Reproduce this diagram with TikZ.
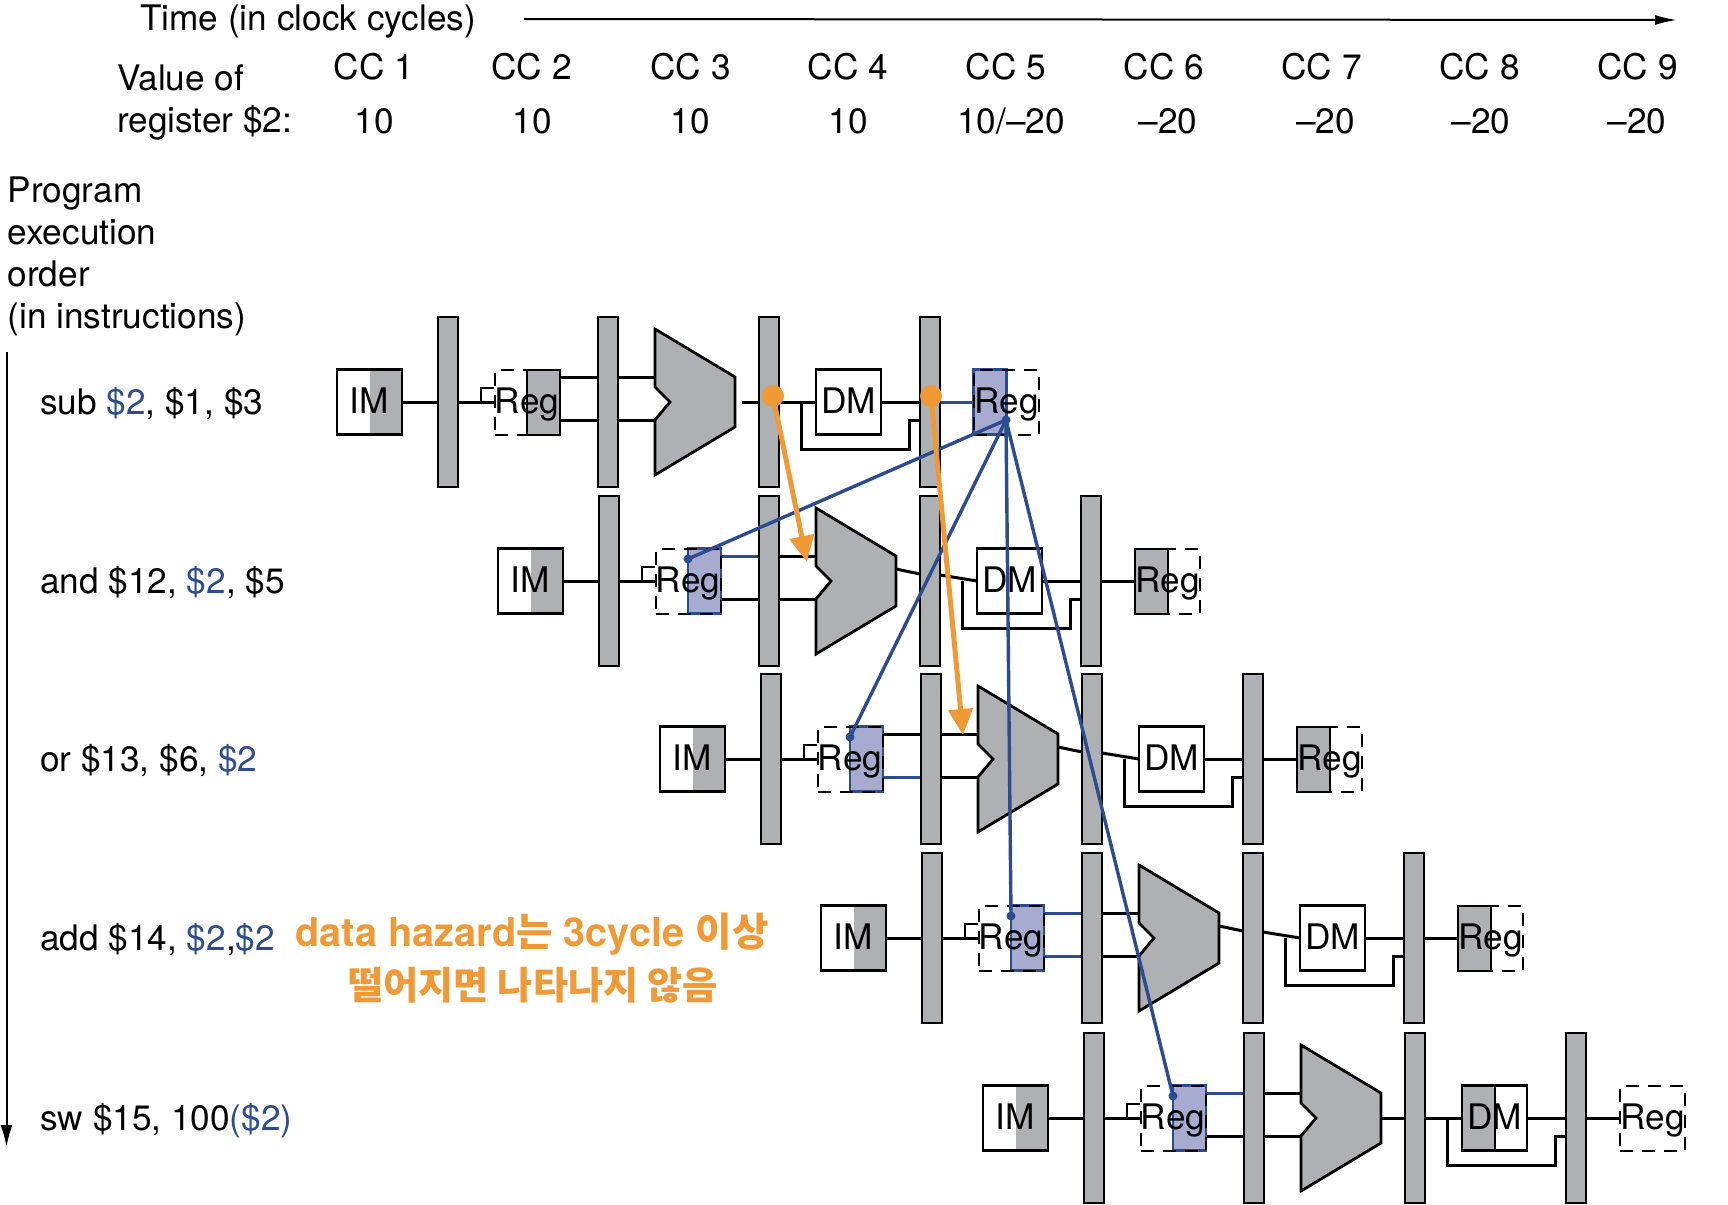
\documentclass[tikz,border=0pt]{standalone}
\usepackage{fontspec}
\setmainfont{TeX Gyre Heros}
\newfontfamily\krfont{Noto Sans CJK KR}
\usetikzlibrary{arrows.meta}
\definecolor{hzgray}{HTML}{AFB0B3}
\definecolor{hzblue}{HTML}{2B4D8F}
\definecolor{hzfill}{HTML}{A6ABCF}
\definecolor{hzorange}{HTML}{F09A37}
\tikzset{
  x=1pt,y=-1pt,
  txt/.style={inner sep=0pt,font=\fontsize{35.2}{42}\selectfont},
  wire/.style={line width=3pt,black},
  bluewire/.style={line width=3pt,hzblue},
  thinwire/.style={line width=2pt,black},
  latch/.style={draw=black,line width=2.4pt,fill=hzgray,minimum width=20pt,minimum height=170pt,inner sep=0pt},
  unitbox/.style={txt,minimum width=65pt,minimum height=65pt,text height=25pt,text depth=3pt},
  solidbox/.style={unitbox,draw=black,line width=2.4pt},
  dashbox/.style={unitbox,draw=black,line width=2pt,dash pattern=on 13pt off 9pt},
  halfgray/.style={fill=hzgray,draw=black,line width=2pt,minimum width=33pt,minimum height=65pt,inner sep=0pt},
  halfblue/.style={fill=hzfill,draw=hzblue,line width=2.4pt,minimum width=33pt,minimum height=65pt,inner sep=0pt},
  halfplain/.style={minimum width=33pt,minimum height=65pt,inner sep=0pt},
  alu/.style={draw=black,line width=2.8pt,fill=hzgray,line join=miter},
  hazard/.style={line width=3.4pt,hzblue},
  hazdot/.style={circle,fill=hzblue,inner sep=0pt,minimum size=9pt},
  fwd/.style={line width=5pt,hzorange,-{Triangle[width=24pt,length=26pt]}},
  fwddot/.style={circle,fill=hzorange,inner sep=0pt,minimum size=22pt},
  idhalf/.style={halfblue},
  dmhalf/.style={halfplain},
  wbhalf/.style={halfgray},
  topa/.style={wire},
  bota/.style={wire},
  wbwire/.style={wire},
  tapdot/.style={hazdot},
}
% #1 scope options, #2 wires from the ALU to the data memory
\newcommand{\piperow}[2]{%
\begin{scope}[#1]
  \node[latch] (l1) at (448,402) {};
  \node[latch] (l2) at (608,402) {};
  \node[latch] (l3) at (769,402) {};
  \node[latch] (l4) at (930,402) {};
  \node[fill=hzgray,minimum width=32pt,minimum height=65pt,inner sep=0pt] (imh) at (386,402) {};
  \node[solidbox] (im) at (369.5,402) {IM};
  \node[idhalf] (idh) at (543.5,402) {};
  \node[dashbox] (id) at (527,402) {Reg};
  \node[dmhalf] (dmh) at (832,402) {};
  \node[solidbox] (dm) at (848.5,402) {DM};
  \node[wbhalf] (wbh) at (990,402) {};
  \node[dashbox] (wb) at (1006.5,402) {Reg};
  \draw[alu] (655,329) -- (735,377) -- (735,427) -- (655,475) -- (655,420) -- (670,402) -- (655,387) -- cycle;
  \coordinate (alut) at (655,377);
  \coordinate (alub) at (655,420);
  \coordinate (aluo) at (735,402);
  \coordinate (tap) at (801.5,402);
  \coordinate (lb) at (801.5,449);
  \coordinate (rb) at (909,449);
  \coordinate (rt) at (909,420);
  \coordinate (clka) at (480.5,402);
  \coordinate (clkb) at (480.5,388);
  \coordinate (clkc) at (494,388);
  \draw[wire] (im.east) -- (l1.west);
  \draw[wire] (l1.east) -- (id.west);
  \draw[thinwire] (clka) -- (clkb) -- (clkc);
  \draw[topa] (id.east |- alut) -- (l2.west |- alut);
  \draw[bota] (id.east |- alub) -- (l2.west |- alub);
  \draw[wire] (l2.east |- alut) -- (alut);
  \draw[wire] (l2.east |- alub) -- (alub);
  #2
  \draw[wire] (tap) -- (lb) -- (rb) -- (rt) -- (l4.west |- rt);
  \draw[wire] (dm.east) -- (l4.west);
  \draw[wbwire] (l4.east) -- (wb.west);
  \node[tapdot] (dot) at (527,380) {};
\end{scope}}
\newcommand{\straightwires}{\draw[wire] (aluo) -- (l3.west); \draw[wire] (l3.east) -- (dm.west);}
\newcommand{\gapwires}{\draw[wire] (742,402) -- (l3.west); \draw[wire] (l3.east) -- (dm.west);}
\newcommand{\slopewires}{\coordinate (aa) at (735,390); \coordinate (ab) at (759,395); \coordinate (ac) at (779,396); \coordinate (ad) at (816,402); \draw[wire] (aa) -- (ab); \draw[wire] (ac) -- (ad);}
\begin{document}
\begin{tikzpicture}
\useasboundingbox[fill=white] (0,0) rectangle (1728,1204);
% header
\node[txt,anchor=base west] (time) at (140,31) {Time (in clock cycles)};
\coordinate (timeA) at (524,19);
\coordinate (timeB) at (1677,20);
\draw[line width=2pt,-{Latex[length=22pt,width=10pt]}] (timeA) -- (timeB);
\node[txt,anchor=base west] (val1) at (117,91) {Value of};
\node[txt,anchor=base west] (val2) at (117,132) {register \$2:};
\foreach \n/\x in {1/374,2/531.5,3/690.5,4/848,5/1006,6/1164,7/1321.5,8/1479.5,9/1637.5}
  \node[txt,anchor=base] (cc\n) at (\x,80) {CC \n};
\foreach \n/\x/\v in {1/374/10,2/532/10,3/690/10,4/848/10,5/1011/{10/–20},6/1168/–20,7/1325.5/–20,8/1481/–20,9/1637/–20}
  \node[txt,anchor=base] (v\n) at (\x,133) {\v};
\node[txt,anchor=north west,align=left] (order) at (7.5,177) {Program\\execution\\order\\(in instructions)};
\coordinate (ordA) at (6.5,352);
\coordinate (ordB) at (6.5,1147);
\draw[line width=2pt,-{Latex[length=22pt,width=12pt]}] (ordA) -- (ordB);
% instruction labels
\node[txt,anchor=base west] (i1) at (40,414) {sub \textcolor{hzblue}{\$2}, \$1, \$3};
\node[txt,anchor=base west] (i2) at (40,593) {and \$12, \textcolor{hzblue}{\$2}, \$5};
\node[txt,anchor=base west] (i3) at (40,771) {or \$13, \$6, \textcolor{hzblue}{\$2}};
\node[txt,anchor=base west] (i4) at (40,950) {add \$14, \textcolor{hzblue}{\$2},\textcolor{hzblue}{\$2}};
\node[txt,anchor=base west] (i5) at (40,1130) {sw \$15, 100\textcolor{hzblue}{(\$2)}};
% pipeline rows
\piperow{name prefix=r1-,idhalf/.style={halfgray},wbhalf/.style={halfblue},wbwire/.style={bluewire},tapdot/.style={inner sep=0pt}}{\gapwires}
\piperow{name prefix=r2-,shift={(161,179)},topa/.style={bluewire}}{\slopewires}
\piperow{name prefix=r3-,shift={(323,357)},bota/.style={bluewire}}{\slopewires}
\piperow{name prefix=r4-,shift={(484,536)},topa/.style={bluewire},bota/.style={bluewire}}{\slopewires}
\piperow{name prefix=r5-,shift={(646,716)},topa/.style={bluewire},dmhalf/.style={halfgray},wbhalf/.style={halfplain}}{\straightwires}
% hazard lines
\node[hazdot] (src) at (1006,420) {};
\draw[hazard] (src.center) -- (r2-dot.center);
\draw[hazard] (src.center) -- (r3-dot.center);
\draw[hazard] (src.center) -- (r4-dot.center);
\draw[hazard] (src.center) -- (r5-dot.center);
% forwarding arrows
\node[fwddot] (f1) at (773,396) {};
\node[fwddot] (f2) at (931,396) {};
\coordinate (f1t) at (807,562);
\coordinate (f2t) at (963,735);
\draw[fwd] (f1.center) -- (f1t);
\draw[fwd] (f2.center) -- (f2t);
% note
\node[inner sep=0pt,anchor=base,text=hzorange,font=\fontsize{39.7}{44}\selectfont\bfseries] (note1) at (532,946) {data hazard{\krfont\bfseries 는} 3cycle {\krfont\bfseries 이상}};
\node[inner sep=0pt,anchor=base,text=hzorange,font=\fontsize{38.2}{44}\selectfont\bfseries] (note2) at (533,999) {\krfont\bfseries 떨어지면 나타나지 않음};
\end{tikzpicture}
\end{document}
